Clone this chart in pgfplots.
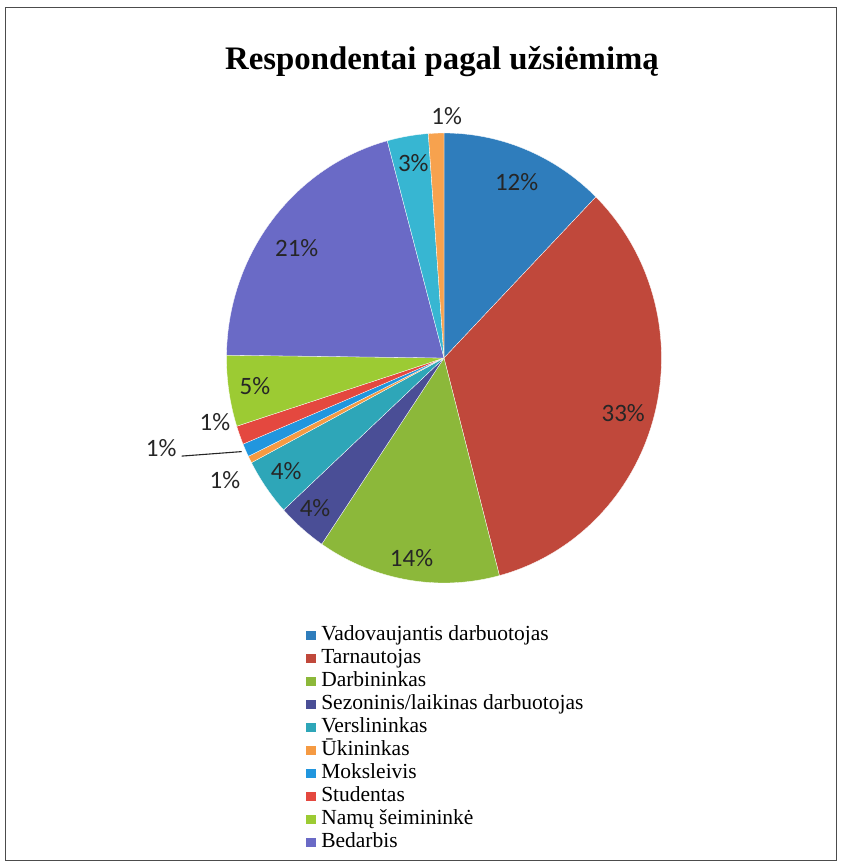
\documentclass[border=0pt]{standalone}
\usepackage{pgfplots}
\pgfplotsset{compat=1.18}
\usepackage{pgfplotstable}
\usepackage{fontspec}
\setmainfont{Liberation Serif}
\newfontfamily\calib{Carlito}

\definecolor{c0}{HTML}{2F7DBC}
\definecolor{c1}{HTML}{C0483B}
\definecolor{c2}{HTML}{8CB83A}
\definecolor{c3}{HTML}{4A4E96}
\definecolor{c4}{HTML}{2EA6B8}
\definecolor{c5}{HTML}{F59A42}
\definecolor{c6}{HTML}{2196DE}
\definecolor{c7}{HTML}{E4483F}
\definecolor{c8}{HTML}{9CCB33}
\definecolor{c9}{HTML}{6A6AC6}
\definecolor{c10}{HTML}{37B6D2}
\definecolor{c11}{HTML}{F7A24E}

% slice shares in percent, clockwise from 12 o'clock
\pgfplotstableread{
v
12.3
33.6
13.6
3.7
4.1
0.5
0.95
1.35
5.1
20.6
3.05
1.15
}\slices
\pgfplotstablecreatecol[create col/expr accum={\pgfmathaccuma + \thisrow{v}}{0}]{e}\slices

\pgfplotsset{sqleg/.style={legend image code/.code={\fill[##1, draw=none] (0pt,-4.5pt) rectangle (10pt,4.5pt);}}}

\begin{document}
\begin{tikzpicture}[x=1pt,y=1pt]
\path[use as bounding box] (0,0) rectangle (850,865);
\draw[black!70, line width=0.8pt] (5,5) rectangle (836,858);
\node[font=\bfseries\fontsize{32.8}{38}\selectfont, anchor=base] at (442,795) {Respondentai pagal užsiėmimą};
\begin{axis}[
  at={(444pt,507pt)}, anchor=center,
  width=435pt, height=450pt, scale only axis,
  xmin=-1, xmax=1, ymin=-1, ymax=1,
  hide axis, clip=false,
  legend style={at={(0.176,-0.0867)}, anchor=north west, draw=none, fill=none,
    font=\fontsize{21.5}{23}\selectfont, row sep=0pt,
    nodes={text height=14pt, text depth=5pt, inner ysep=2pt, inner xsep=2pt},
    /tikz/every odd column/.append style={column sep=3pt}},
  legend cell align=left,
]
\pgfplotsinvokeforeach{0,...,11}{%
  \pgfplotstablegetelem{#1}{e}\of\slices \pgfmathsetmacro\E{\pgfplotsretval}%
  \pgfplotstablegetelem{#1}{v}\of\slices \pgfmathsetmacro\S{\E-\pgfplotsretval}%
  \edef\doslice{\noexpand\addplot[fill=c#1, draw=white, line width=0.3pt, domain=\S:\E, samples=100, variable=\noexpand\t, forget plot] ({sin(3.6*\noexpand\t)},{cos(3.6*\noexpand\t)}) -- (axis cs:0,0) -- cycle;}%
  \doslice
}
\addlegendimage{sqleg, fill=c0}
\addlegendimage{sqleg, fill=c1}
\addlegendimage{sqleg, fill=c2}
\addlegendimage{sqleg, fill=c3}
\addlegendimage{sqleg, fill=c4}
\addlegendimage{sqleg, fill=c5}
\addlegendimage{sqleg, fill=c6}
\addlegendimage{sqleg, fill=c7}
\addlegendimage{sqleg, fill=c8}
\addlegendimage{sqleg, fill=c9}
\legend{Vadovaujantis darbuotojas, Tarnautojas, Darbininkas, Sezoninis/laikinas darbuotojas, Verslininkas, Ūkininkas, Moksleivis, Studentas, Namų šeimininkė, Bedarbis}

\begin{scope}[every node/.style={font=\calib\fontsize{25}{28}\selectfont, text=black!85}]
\node at (axis cs:0.334,0.784) {12\%};
\node at (axis cs:0.824,-0.246) {33\%};
\node at (axis cs:-0.149,-0.890) {14\%};
\node at (axis cs:-0.593,-0.668) {4\%};
\node at (axis cs:-0.726,-0.501) {4\%};
\node at (axis cs:-1.007,-0.542) {1\%};
\node at (axis cs:-1.30,-0.401) {1\%};
\node at (axis cs:-1.053,-0.283) {1\%};
\node at (axis cs:-0.869,-0.127) {5\%};
\node at (axis cs:-0.677,0.488) {21\%};
\node at (axis cs:-0.141,0.865) {3\%};
\node at (axis cs:0.012,1.075) {1\%};
\end{scope}
\draw[black!85, line width=1.1pt] (axis cs:-1.206,-0.436) -- (axis cs:-0.930,-0.416);
\end{axis}
\end{tikzpicture}
\end{document}
